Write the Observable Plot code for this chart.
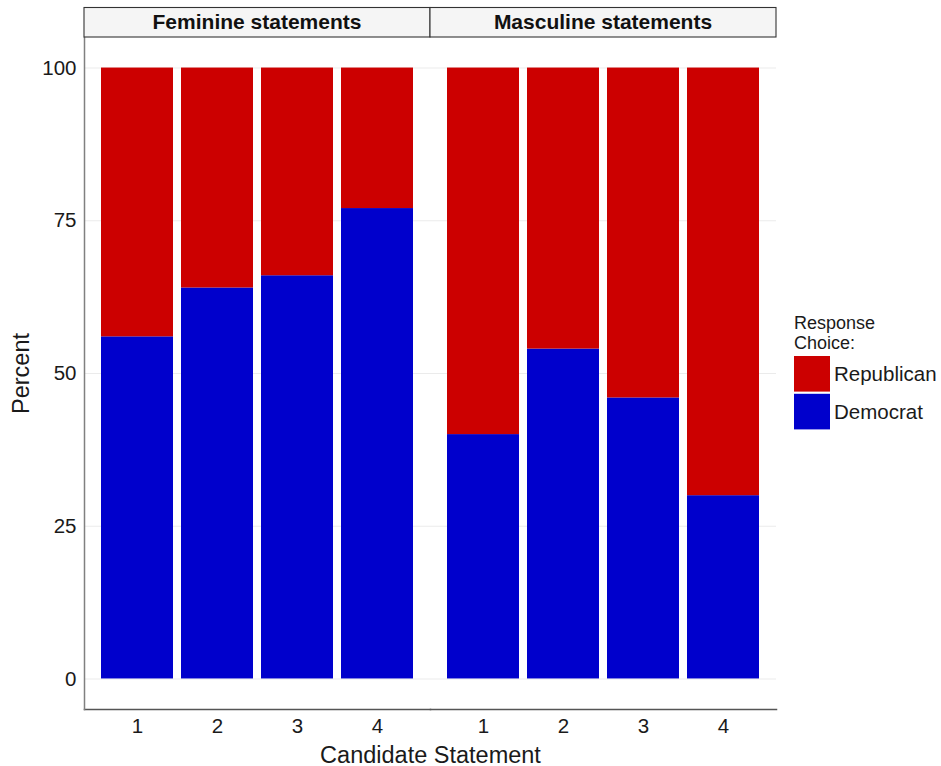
<!DOCTYPE html>
<html><head><meta charset="utf-8">
<script src="https://cdn.jsdelivr.net/npm/d3@7"></script>
<script src="https://cdn.jsdelivr.net/npm/@observablehq/plot@0.6"></script>
<style>body{margin:0;background:#fff} svg{display:block}</style>
</head><body><div id="chart"></div>
<script>
const panels = ["Feminine statements", "Masculine statements"];
const statements = ["1", "2", "3", "4"];
const parties = ["Republican", "Democrat"];
const democratFeminine = [56, 64, 66, 77];
const republicanFeminine = [44, 36, 34, 23];
const democratMasculine = [40, 54, 46, 30];
const republicanMasculine = [60, 46, 54, 70];
const yTicks = [0, 25, 50, 75, 100];
const partyColors = ["#CC0000", "#0000CC"];

const series = [[democratFeminine, republicanFeminine], [democratMasculine, republicanMasculine]];
const rows = [];
panels.forEach((panel, p) => statements.forEach((s, i) => {
  rows.push({panel, statement: s, party: "Democrat", value: series[p][0][i]});
  rows.push({panel, statement: s, party: "Republican", value: series[p][1][i]});
}));

const font = "'Liberation Sans', Arial, Helvetica, sans-serif";
const W = 941, H = 766, ML = 84, MR = 165, MT = 37, MB = 57;

const plot = Plot.plot({
  width: W, height: H,
  marginLeft: ML, marginRight: MR, marginTop: MT, marginBottom: MB,
  style: {fontFamily: font, background: "#fff", color: "#1a1a1a"},
  fx: {domain: panels, padding: 0, axis: null},
  x: {domain: statements, paddingInner: 0.1, paddingOuter: 0.19},
  y: {domain: [-5, 105]},
  color: {domain: parties, range: partyColors},
  marks: [
    Plot.gridY(yTicks, {stroke: "#EBEBEB", strokeOpacity: 1, strokeWidth: 1.1}),
    Plot.barY(rows, {fx: "panel", x: "statement", y: "value", fill: "party", inset: 0}),
    Plot.frame({anchor: "bottom", stroke: "#555", strokeWidth: 1.5}),
    Plot.frame({anchor: "left", facetAnchor: "left", stroke: "#808080", strokeWidth: 1.5}),
    Plot.axisX({tickSize: 0, tickPadding: 9, fontSize: 20.5, fill: "#1a1a1a", label: null}),
    Plot.axisX({ticks: [], tickSize: 0, fontSize: 23.5, fill: "#1a1a1a", label: "Candidate Statement", labelAnchor: "center", labelOffset: 53, labelArrow: "none"}),
    Plot.axisY(yTicks, {tickSize: 0, tickPadding: 8, fontSize: 20.5, fill: "#1a1a1a", label: null}),
    Plot.axisY({ticks: [], tickSize: 0, fontSize: 23.5, fill: "#1a1a1a", label: "Percent", labelAnchor: "center", labelOffset: 72, labelArrow: "none"})
  ]
});

document.getElementById("chart").appendChild(plot);

// facet strips
const svg = d3.select(plot);
let fxScale = null;
try { fxScale = plot.scale("fx"); } catch (e) { fxScale = null; }
const bw = fxScale && fxScale.bandwidth ? fxScale.bandwidth : (W - ML - MR) / panels.length;
const strips = svg.append("g").attr("font-family", font);
panels.forEach((panel, i) => {
  const x0 = fxScale && fxScale.apply ? fxScale.apply(panel) : ML + i * bw;
  strips.append("rect").attr("x", x0).attr("y", 7.5).attr("width", bw).attr("height", MT - 7.5)
    .attr("fill", "#F5F5F5").attr("stroke", "#333").attr("stroke-width", 1.1);
  strips.append("text").attr("x", x0 + bw / 2).attr("y", 29.3).attr("text-anchor", "middle")
    .attr("font-size", 21).attr("font-weight", "bold").attr("fill", "#111").text(panel);
});

// legend
const color = plot.scale("color");
const lg = svg.append("g").attr("font-family", font).attr("fill", "#1a1a1a").attr("text-anchor", "start");
lg.append("text").attr("x", 794).attr("y", 329).attr("font-size", 18).attr("text-anchor", "start").text("Response");
lg.append("text").attr("x", 794).attr("y", 349).attr("font-size", 18).attr("text-anchor", "start").text("Choice:");
parties.forEach((p, i) => {
  const y0 = 356 + i * 37.8;
  lg.append("rect").attr("x", 794).attr("y", y0).attr("width", 36).attr("height", 35.6).attr("fill", color.apply(p));
  lg.append("text").attr("x", 834).attr("y", y0 + 17.8).attr("dy", "0.35em").attr("font-size", 20.5)
    .attr("text-anchor", "start").text(p);
});
</script>
</body></html>
